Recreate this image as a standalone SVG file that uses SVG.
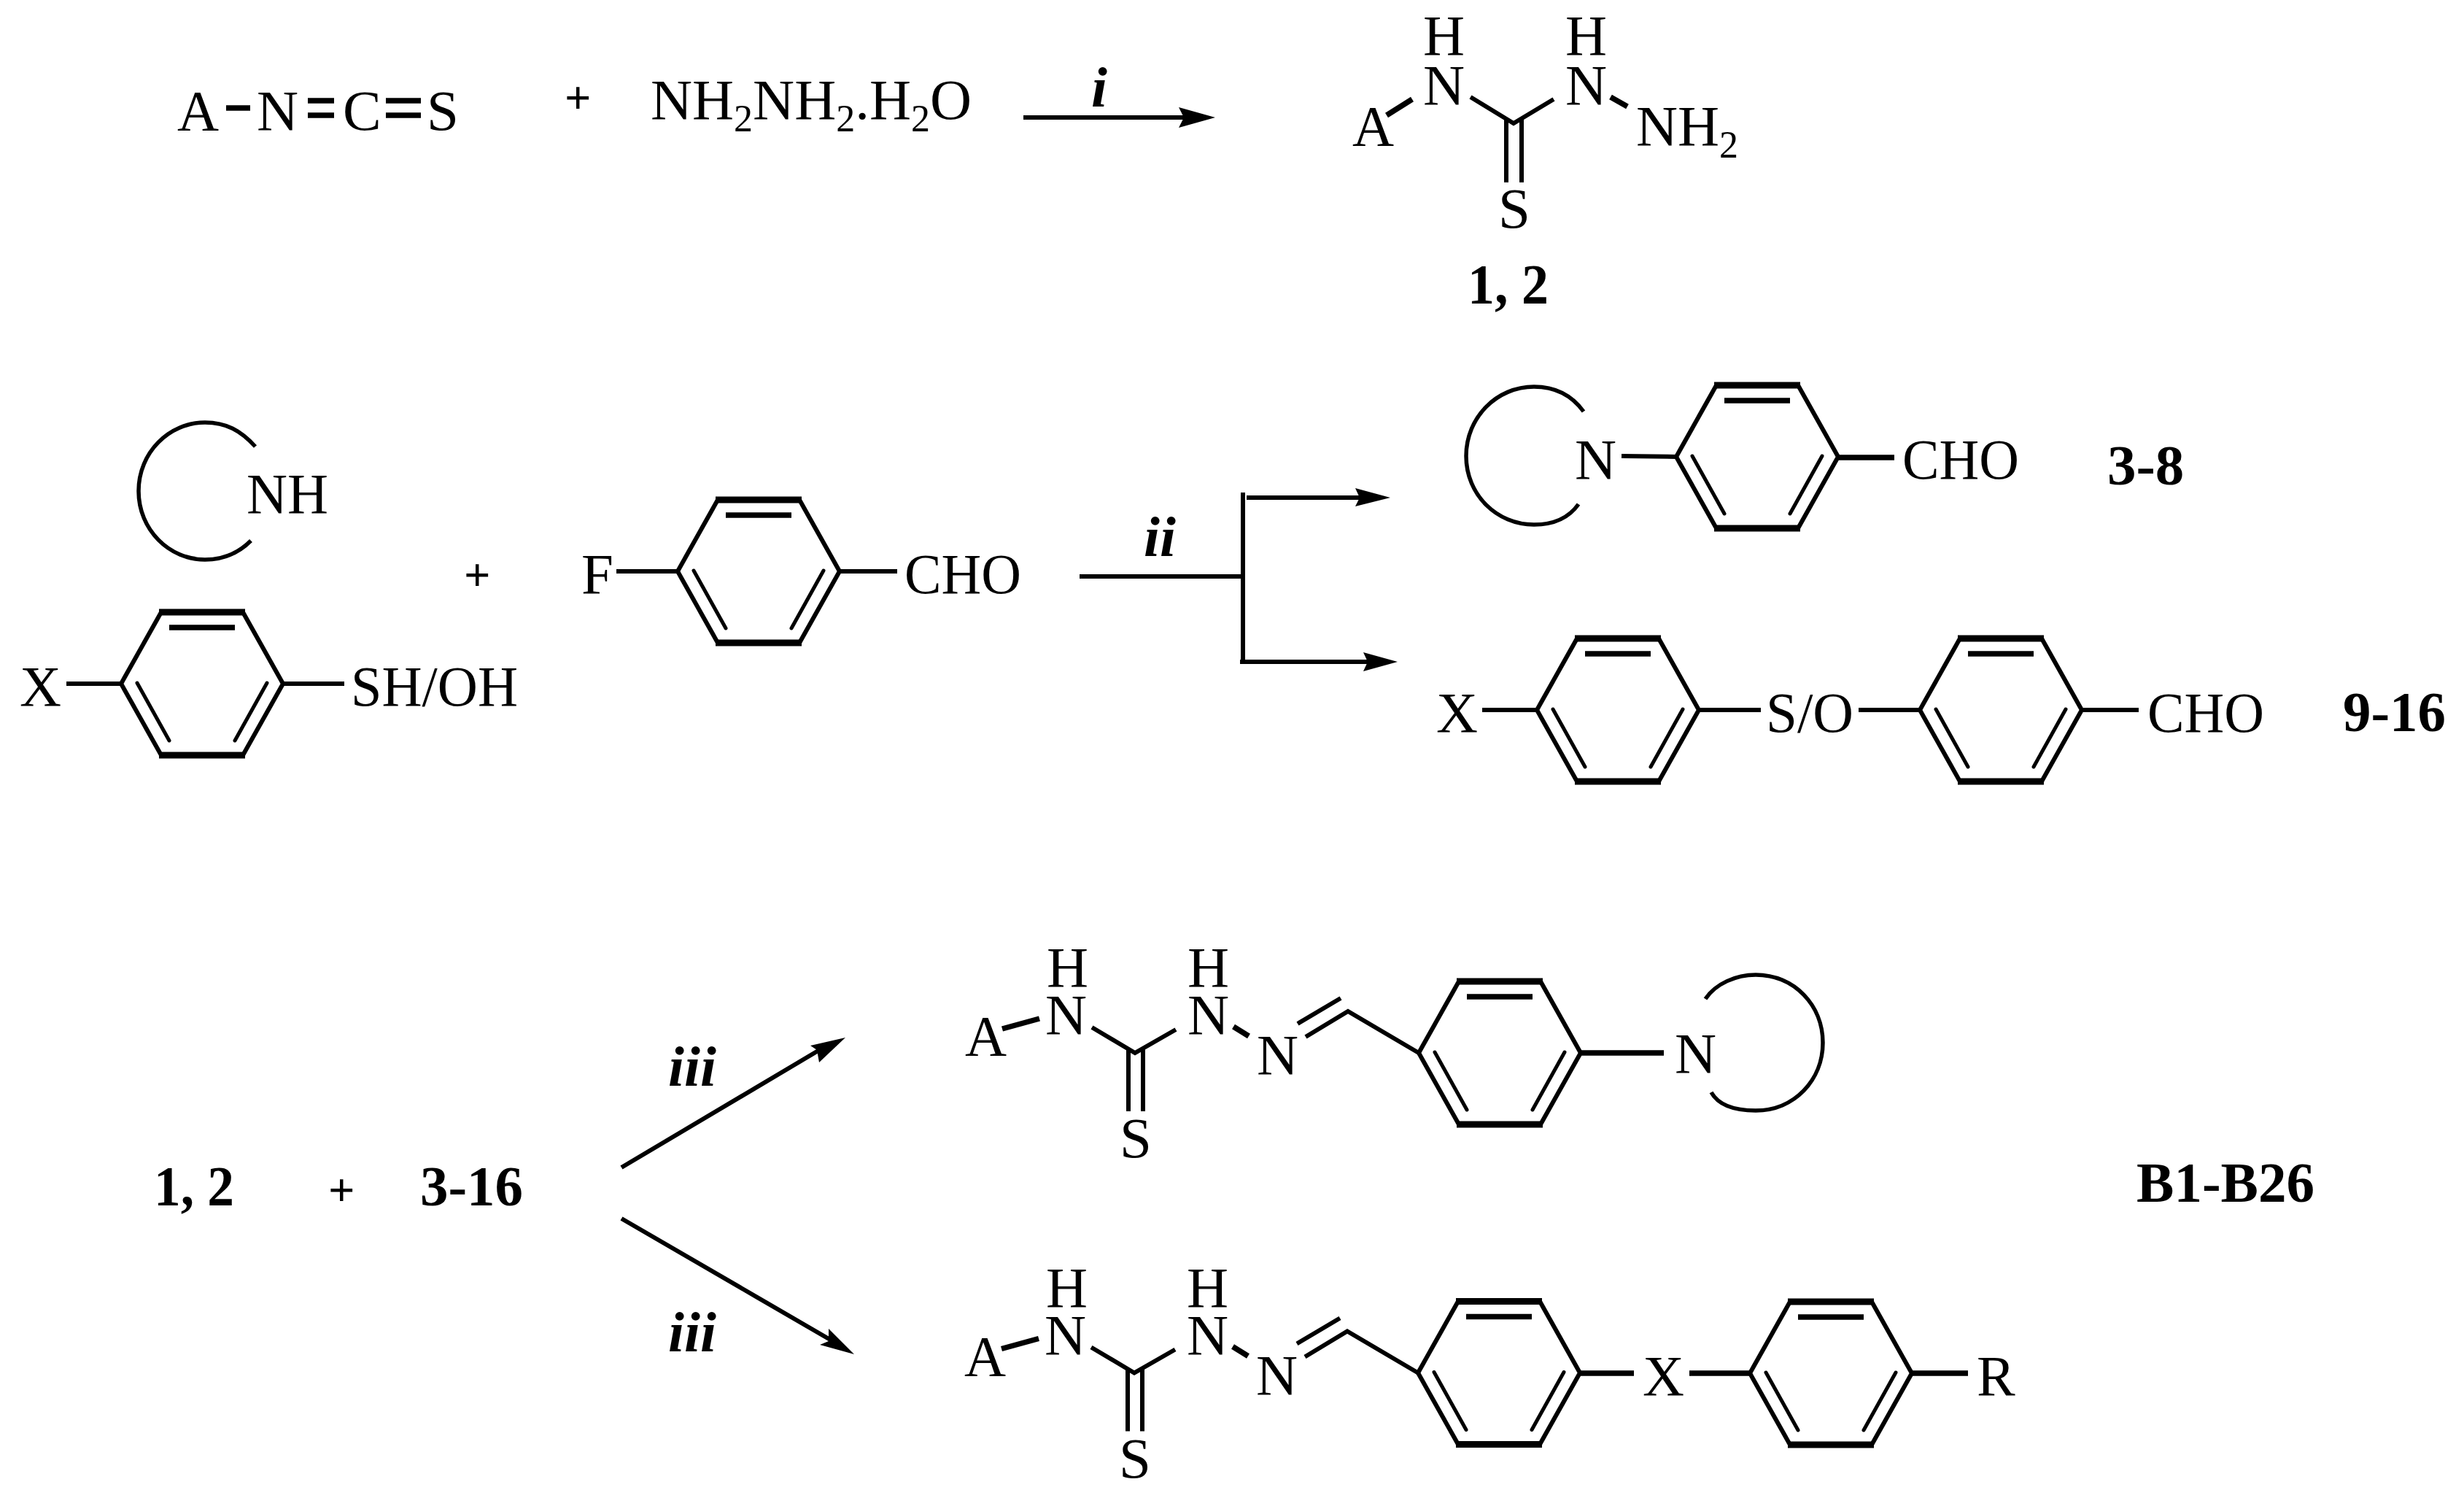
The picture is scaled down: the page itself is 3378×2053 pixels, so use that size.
<svg xmlns="http://www.w3.org/2000/svg" xmlns:xlink="http://www.w3.org/1999/xlink" width="3378" height="2053" viewBox="0 0 3378 2053">
<style>
text{font-family:"Liberation Serif","Times New Roman",serif;font-size:79px;fill:#000}
.b{font-weight:bold}
.i{font-weight:bold;font-style:italic}
.s{font-size:52px}
.p{font-size:64px;font-weight:bold}
line,polyline{fill:none;stroke:#000;stroke-width:6;stroke-linecap:butt;stroke-linejoin:miter}
.h{stroke-width:9}
.d{stroke-width:7.5}
.n{stroke-width:5;stroke-linecap:round}
.a{fill:none;stroke:#000;stroke-width:5.5}
.ah{fill:#000;stroke:none}
</style>
<defs>
<g id="ring">
<polyline points="0,0 55,-98"/>
<line x1="52" y1="-98" x2="170" y2="-98" class="h"/>
<polyline points="167,-98 222,0 167,98"/>
<line x1="170" y1="98" x2="52" y2="98" class="h"/>
<polyline points="55,98 0,0"/>
<line x1="66" y1="-77" x2="156" y2="-77" class="d"/>
<line x1="22" y1="-1" x2="66" y2="78" class="n"/>
<line x1="200" y1="-1" x2="156" y2="78" class="n"/>
</g>
<g id="hz">
<text x="1435" y="1352">H</text>
<text x="1433" y="1417">N</text>
<text x="1628" y="1352">H</text>
<text x="1628" y="1417">N</text>
<text x="1323" y="1446">A</text>
<text x="1535" y="1586">S</text>
<text x="1723" y="1472">N</text>
<line x1="1374" y1="1410" x2="1425" y2="1396" class="d"/>
<polyline points="1497,1408 1556,1443 1612,1411"/>
<line x1="1547" y1="1438" x2="1547" y2="1523"/>
<line x1="1567" y1="1438" x2="1567" y2="1523"/>
<line x1="1691" y1="1407" x2="1712" y2="1420" class="d"/>
<polyline points="1790,1421 1848,1386 1945,1443"/>
<line x1="1779" y1="1403" x2="1838" y2="1368"/>
<use xlink:href="#ring" href="#ring" x="1945" y="1443"/>
</g>
</defs>
<rect width="3378" height="2053" fill="#fff"/>

<g id="connectors">
<line x1="1403" y1="161" x2="1625" y2="161"/>
<polygon class="ah" points="1666,161 1616,147 1623,161 1616,175"/>
<line x1="1480" y1="790" x2="1704" y2="790"/>
<line x1="1704" y1="675" x2="1704" y2="907"/>
<line x1="1709" y1="682" x2="1870" y2="682"/>
<polygon class="ah" points="1906,682 1858,669 1864,682 1858,694"/>
<line x1="1700" y1="907" x2="1880" y2="907"/>
<polygon class="ah" points="1916,907 1869,894 1875,907 1869,920"/>
<line x1="852" y1="1600" x2="1125" y2="1438"/>
<polygon class="ah" points="1159,1422 1111,1433 1120,1439 1123,1456"/>
<line x1="852" y1="1670" x2="1145" y2="1840"/>
<polygon class="ah" points="1171,1856 1136,1821 1136,1838 1124,1843"/>
</g>

<g id="reaction-1-reactants">
<text x="243" y="178">A</text>
<line x1="310" y1="148" x2="343" y2="148" class="d"/>
<text x="352" y="178">N</text>
<line x1="422" y1="138" x2="458" y2="138" class="d"/>
<line x1="422" y1="158" x2="458" y2="158" class="d"/>
<text x="470" y="178">C</text>
<line x1="529" y1="138" x2="577" y2="138" class="d"/>
<line x1="529" y1="158" x2="577" y2="158" class="d"/>
<text x="585" y="178">S</text>
<text x="774" y="155" class="p">+</text>
<text x="892" y="163">NH<tspan class="s" dy="17">2</tspan><tspan dy="-17">NH</tspan><tspan class="s" dy="17">2</tspan><tspan dy="-17">.H</tspan><tspan class="s" dy="17">2</tspan><tspan dy="-17">O</tspan></text>
<text x="1496" y="146" class="i">i</text>
</g>

<g id="compound-1-2">
<text x="1951" y="75">H</text>
<text x="1951" y="143">N</text>
<text x="2146" y="75">H</text>
<text x="2146" y="143">N</text>
<text x="1854" y="199">A</text>
<text x="2243" y="199">NH<tspan class="s" dy="17">2</tspan></text>
<text x="2054" y="312">S</text>
<line x1="1901" y1="158" x2="1936" y2="136" class="d"/>
<polyline points="2016,133 2075,169 2130,136"/>
<line x1="2065" y1="164" x2="2065" y2="250"/>
<line x1="2086" y1="164" x2="2086" y2="250"/>
<line x1="2208" y1="133" x2="2231" y2="146" class="d"/>
<text x="2012" y="416" class="b" textLength="111" lengthAdjust="spacingAndGlyphs">1, 2</text>
</g>

<g id="amine">
<path class="a" d="M350,612 C330,590 310,579 281,579 C232,579 190,620 190,673 C190,726 232,767 281,767 C310,767 330,755 344,741"/>
<text x="338" y="703" textLength="112" lengthAdjust="spacingAndGlyphs">NH</text>
</g>

<g id="phenol">
<use xlink:href="#ring" href="#ring" x="166" y="937"/>
<text x="27" y="967">X</text>
<line x1="91" y1="937" x2="166" y2="937"/>
<line x1="387" y1="937" x2="472" y2="937"/>
<text x="481" y="967" textLength="229" lengthAdjust="spacingAndGlyphs">SH/OH</text>
</g>

<text x="636" y="809" class="p">+</text>

<g id="fluorobenzaldehyde">
<use xlink:href="#ring" href="#ring" x="929" y="783"/>
<text x="797" y="813">F</text>
<line x1="845" y1="783" x2="929" y2="783"/>
<line x1="1151" y1="783" x2="1230" y2="783"/>
<text x="1240" y="813" textLength="160" lengthAdjust="spacingAndGlyphs">CHO</text>
<text x="1568" y="762" class="i">ii</text>
</g>

<g id="compound-3-8">
<path class="a" d="M2171,564 C2155,542 2132,530 2103,530 C2052,530 2010,572 2010,625 C2010,678 2052,719 2103,719 C2132,719 2152,708 2164,691"/>
<text x="2159" y="656">N</text>
<line x1="2223" y1="625" x2="2298" y2="626"/>
<use xlink:href="#ring" href="#ring" x="2298" y="626"/>
<line x1="2520" y1="627" x2="2597" y2="627" class="d"/>
<text x="2608" y="656" textLength="160" lengthAdjust="spacingAndGlyphs">CHO</text>
<text x="2889" y="664" class="b">3-8</text>
</g>

<g id="compound-9-16">
<text x="1969" y="1003">X</text>
<line x1="2032" y1="973" x2="2107" y2="973"/>
<use xlink:href="#ring" href="#ring" x="2107" y="973"/>
<line x1="2331" y1="973" x2="2414" y2="973"/>
<text x="2421" y="1003" textLength="120" lengthAdjust="spacingAndGlyphs">S/O</text>
<line x1="2548" y1="973" x2="2632" y2="973"/>
<use xlink:href="#ring" href="#ring" x="2632" y="973"/>
<line x1="2856" y1="973" x2="2932" y2="973"/>
<text x="2944" y="1003" textLength="160" lengthAdjust="spacingAndGlyphs">CHO</text>
<text x="3212" y="1002" class="b" textLength="141" lengthAdjust="spacingAndGlyphs">9-16</text>
</g>

<g id="reagents-3">
<text x="211" y="1652" class="b" textLength="110" lengthAdjust="spacingAndGlyphs">1, 2</text>
<text x="450" y="1652" class="p">+</text>
<text x="576" y="1652" class="b" textLength="141" lengthAdjust="spacingAndGlyphs">3-16</text>
<text x="916" y="1488" class="i">iii</text>
<text x="916" y="1852" class="i">iii</text>
</g>

<g id="product-upper">
<use xlink:href="#hz" href="#hz"/>
<line x1="2168" y1="1443" x2="2281" y2="1443" class="d"/>
<text x="2296" y="1470">N</text>
<path class="a" d="M2338,1369 C2352,1348 2380,1336 2407,1336 C2460,1336 2499,1378 2499,1429 C2499,1480 2460,1522 2407,1522 C2378,1522 2356,1515 2346,1497"/>
<text x="2929" y="1647" class="b" textLength="244" lengthAdjust="spacingAndGlyphs">B1-B26</text>
</g>

<g id="product-lower">
<use xlink:href="#hz" href="#hz" transform="translate(-1,438.5)"/>
<line x1="2167" y1="1882" x2="2240" y2="1882" class="d"/>
<text x="2252" y="1912">X</text>
<line x1="2316" y1="1882" x2="2399" y2="1882" class="d"/>
<use xlink:href="#ring" href="#ring" x="2399" y="1882"/>
<line x1="2621" y1="1882" x2="2698" y2="1882" class="d"/>
<text x="2710" y="1912">R</text>
</g>
</svg>
